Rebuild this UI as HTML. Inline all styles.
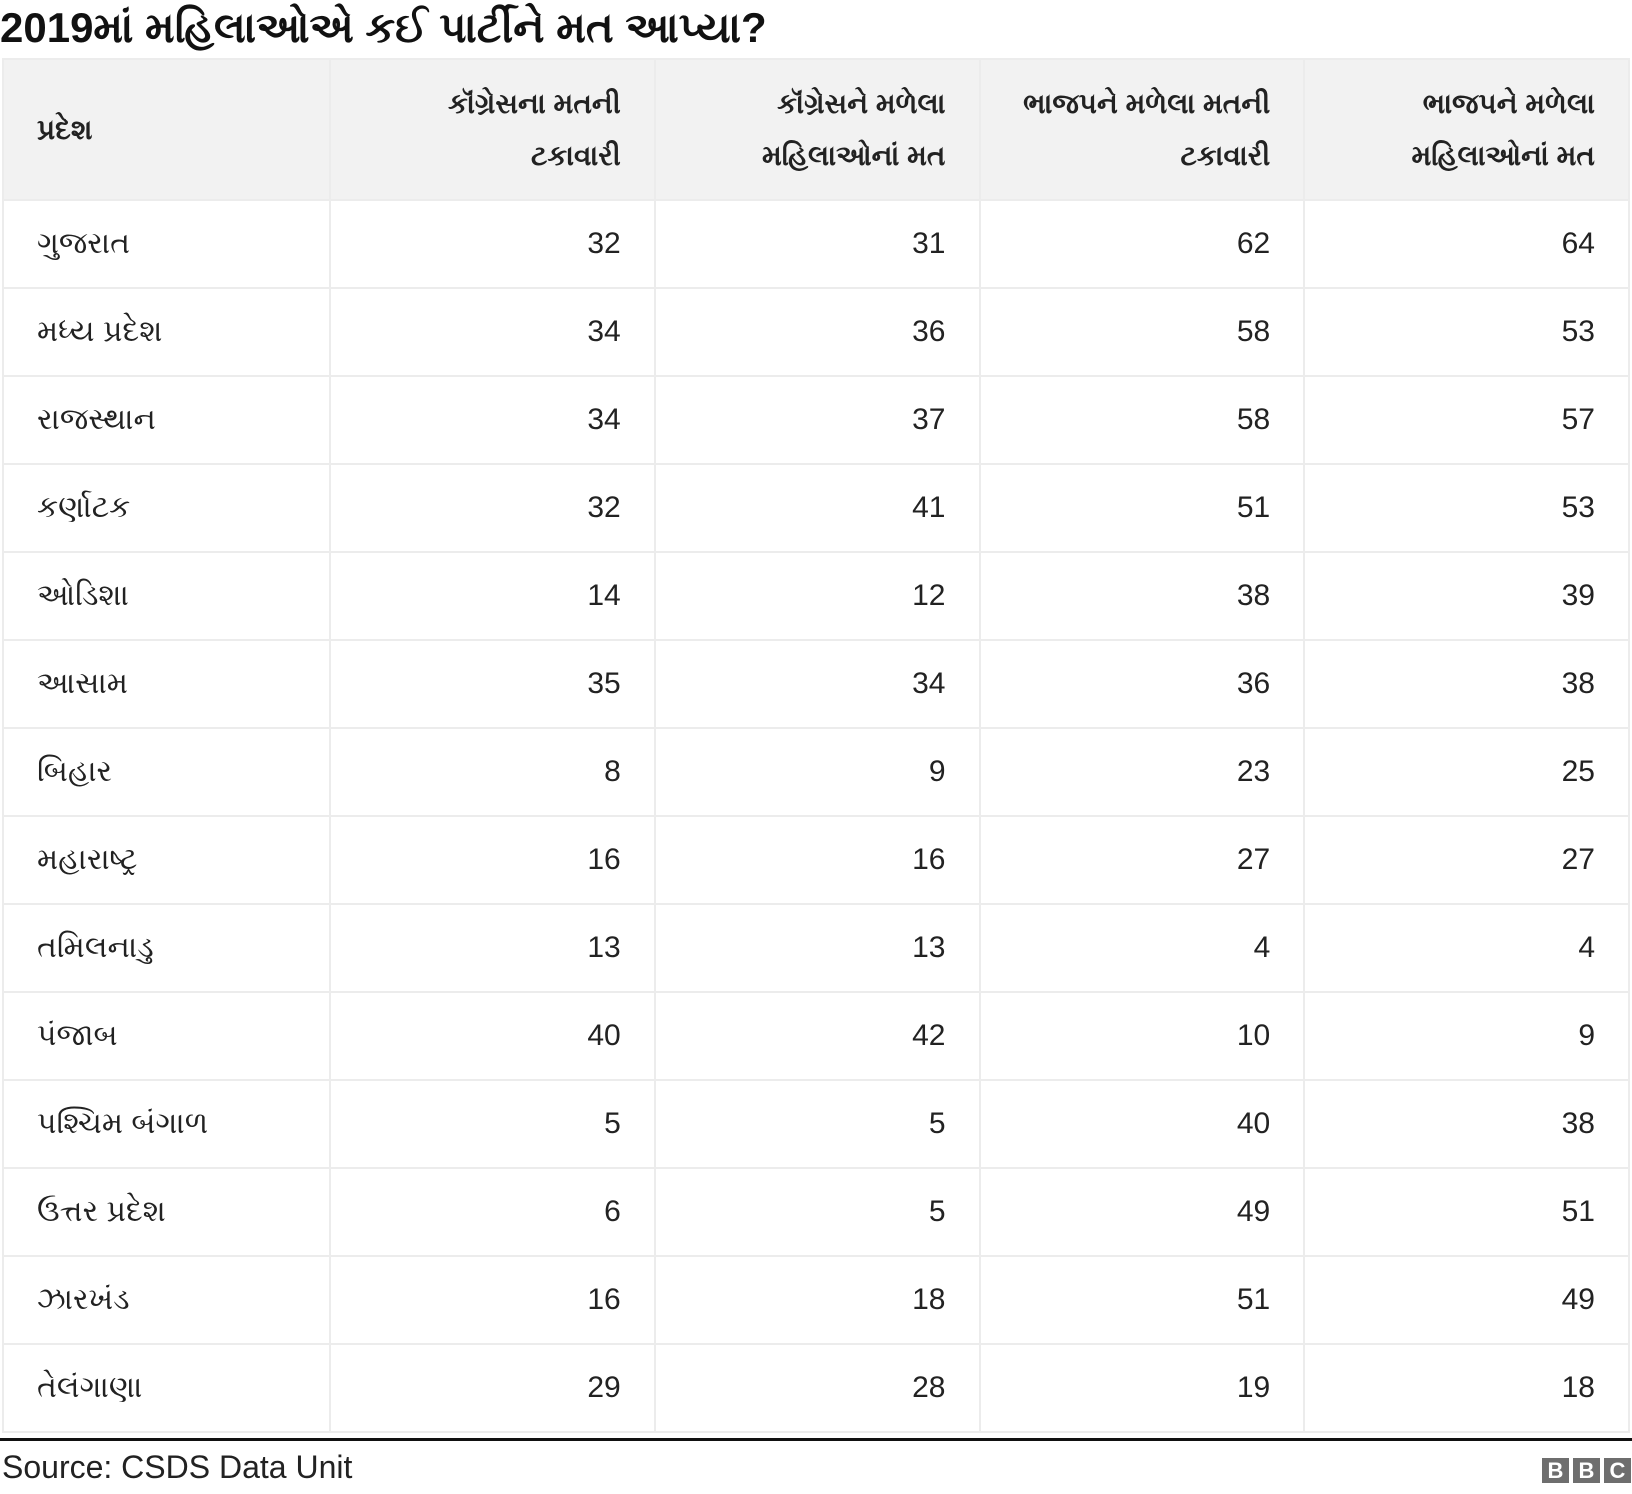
<!DOCTYPE html>
<html><head><meta charset="utf-8"><style>
body{margin:0;width:1632px;height:1494px;background:#fff;position:relative;overflow:hidden;font-family:"Liberation Sans",Arial,sans-serif;color:#222}
#title{position:absolute;left:0;top:4px;font-size:42px;font-weight:bold;white-space:nowrap;color:#111}
table{position:absolute;left:2px;top:58px;width:1628px;border-collapse:collapse;table-layout:fixed}
td,th{border:2px solid #ececec;font-size:30px;padding:0 33px;height:86px}
th{background:#f2f2f2;font-weight:bold;height:139px;line-height:52px;font-size:28px}
th,td{text-align:right}
th:first-child,td:first-child{text-align:left}
#line{position:absolute;left:0;top:1438px;width:1632px;height:3px;background:#111}
#src{position:absolute;left:2px;top:1449px;font-size:32px;color:#222}
#bbc{position:absolute;left:1542px;top:1458px;display:flex;gap:4px}
#bbc span{width:27px;height:25px;background:#6e6e6e;color:#fff;font-weight:bold;font-size:22px;line-height:25px;text-align:center}
</style></head><body>
<div id="title">2019માં મહિલાઓએ કઈ પાર્ટીને મત આપ્યા?</div>
<table><thead><tr>
<th style="width:259px">પ્રદેશ</th>
<th>કૉંગ્રેસના મતની<br>ટકાવારી</th>
<th>કૉંગ્રેસને મળેલા<br>મહિલાઓનાં મત</th>
<th>ભાજપને મળેલા મતની<br>ટકાવારી</th>
<th>ભાજપને મળેલા<br>મહિલાઓનાં મત</th>
</tr></thead><tbody id="tb"></tbody></table>
<div id="line"></div>
<div id="src">Source: CSDS Data Unit</div>
<div id="bbc"><span>B</span><span>B</span><span>C</span></div>
<script>
const states=["ગુજરાત","મધ્ય પ્રદેશ","રાજસ્થાન","કર્ણાટક","ઓડિશા","આસામ","બિહાર","મહારાષ્ટ્ર","તમિલનાડુ","પંજાબ","પશ્ચિમ બંગાળ","ઉત્તર પ્રદેશ","ઝારખંડ","તેલંગાણા"];
const congPct=[32,34,34,32,14,35,8,16,13,40,5,6,16,29];
const congWomen=[31,36,37,41,12,34,9,16,13,42,5,5,18,28];
const bjpPct=[62,58,58,51,38,36,23,27,4,10,40,49,51,19];
const bjpWomen=[64,53,57,53,39,38,25,27,4,9,38,51,49,18];
const tb=document.getElementById('tb');
states.forEach((s,i)=>{
  const tr=document.createElement('tr');
  
  
  [s,congPct[i],congWomen[i],bjpPct[i],bjpWomen[i]].forEach((v,j)=>{
    const td=document.createElement('td');
    
    
    td.textContent=v;tr.appendChild(td);
  });
  tb.appendChild(tr);
});
</script>
</body></html>
